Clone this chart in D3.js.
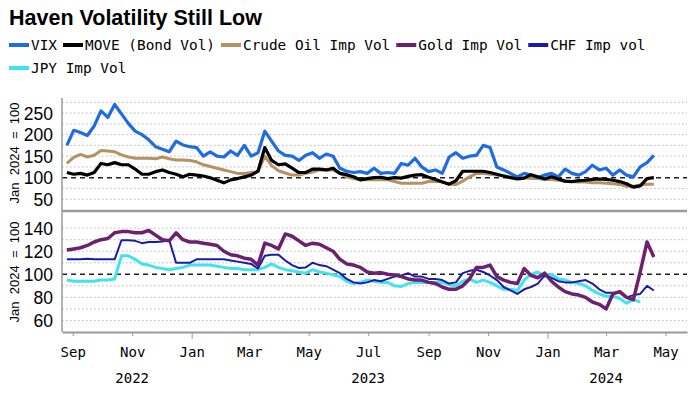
<!DOCTYPE html>
<head>
    <meta charset="utf-8">
    <script src="https://d3js.org/d3.v7.js"></script>
    <style>body { margin: 0; background: #fff; }</style>
</head>
<body>
    <svg id="chart" width="700" height="394"></svg>
    <script>
        // weekly closes (Fridays), Aug 26 2022 .. Apr 19 2024
        const dates = d3.timeDay.range(new Date(2022, 7, 26), new Date(2024, 3, 20), 7);

        // top panel, Jan 2024 = 100
        const vix = [175,210,205,198,220,255,240,270,248,226,208,200,188,172,166,160,185,176,172,170,
                     150,160,150,148,162,152,175,150,158,208,185,162,152,150,140,152,158,145,155,150,
                     122,115,112,114,110,122,110,112,110,133,129,145,125,114,118,110,148,158,145,150,
                     152,175,170,125,118,110,102,110,106,100,106,110,102,120,110,106,114,129,118,122,
                     106,118,106,102,125,135,152];
        const move = [112,108,110,106,112,133,130,135,130,130,120,108,108,114,118,112,108,102,108,106,
                      104,100,94,88,95,98,102,106,115,170,140,130,132,122,112,112,120,120,118,122,
                      110,107,102,95,98,100,101,98,100,99,103,106,107,101,96,90,85,93,115,115,
                      115,115,112,108,104,100,97,99,107,102,97,102,97,92,91,93,94,96,97,96,
                      94,91,86,78,81,98,100];
        const crude = [133,147,154,148,152,163,162,160,153,148,145,145,145,144,148,144,141,141,140,137,
                       130,126,122,118,114,110,110,112,114,150,128,116,111,106,106,110,113,118,118,118,
                       110,102,98,95,95,95,95,95,91,87,87,87,87,91,92,91,85,84,92,102,
                       110,110,108,106,104,102,100,100,98,98,96,96,94,92,91,90,90,88,88,87,
                       86,84,80,80,83,85,85];

        // bottom panel, Jan 2024 = 100
        const gold = [121,122,123,125,128,130,131,136,137,137,136,136,138,134,130,129,136,130,128,128,
                      127,126,125,120,117,116,114,113,108,127,125,122,135,133,129,125,127,126,123,120,
                      113,109,108,106,102,101,101.5,100,99.5,98,96,95,95,93,92,89,87,87,90,96,
                      106,106,108,98,95,93,92,105,99,97,101,94,89,85,83,82,80,76,74,70,
                      83,85,80,78,102,128,115];
        const chf = [113,113,113,113.5,113,113,113,113,129.5,129.5,129,127,128,128,128.5,129.5,110,110,110,113,
                     113,113,113,113,112,111,110,109,105,116,117,117,112,108,105.5,106,110,108,107,104,
                     101,96,93,92,93,95,94,96,98,99,101,98,98,96,96,95,92,93,101,103,
                     104,102,99,95,89,86,83,87,89,92,99,97,94,93,93,94,95,92,87,84,
                     84,84,80,82,83,90,86];
        const jpy = [95,94,94,94,94,95,95,96,116,116,113,109,108,106,105,104,105,106,108,108,
                     108,108,107,106,105,105,104,104,104,106,109,106,104,103,102,101,104,102,101,99.5,
                     98,94,92,93,95,94,93,93,90,89.5,92,93,93,93,93,93,91,90,94,96,
                     93,95,93,90,87,87,86,95,100,102,98,100,96,95,93,92,90,86,83,81,
                     81,79,75,78,76,null,null];

        const topTicks = [50, 100, 150, 200, 250];
        const topGrid = [50, 75, 125, 150, 175, 200, 225, 250, 275];
        const botTicks = [60, 80, 100, 120, 140];
        const botGrid = [60, 70, 80, 90, 110, 120, 130, 140];
        const yearLabels = [["2022", new Date(2022, 10, 1)], ["2023", new Date(2023, 6, 1)], ["2024", new Date(2024, 2, 1)]];

        const series = [
            { name: "VIX", values: vix, color: "#1f6be3", width: 3.2, panel: "top" },
            { name: "MOVE (Bond Vol)", values: move, color: "#000000", width: 3.2, panel: "top" },
            { name: "Crude Oil Imp Vol", values: crude, color: "#b59163", width: 3, panel: "top" },
            { name: "Gold Imp Vol", values: gold, color: "#6c206f", width: 3.5, panel: "bot" },
            { name: "CHF Imp vol", values: chf, color: "#1b1bab", width: 2, panel: "bot" },
            { name: "JPY Imp Vol", values: jpy, color: "#40e4ef", width: 3, panel: "bot" }
        ];

        const svg = d3.select("#chart");
        const left = 62, right = 687;
        const mono = "'DejaVu Sans Mono', monospace";
        const sans = "'Liberation Sans', Arial, sans-serif";

        const x = d3.scaleTime()
            .domain([new Date(2022, 7, 21), new Date(2024, 4, 23)])
            .range([left, right]);
        const yTop = d3.scaleLinear().domain([25, 285]).range([210, 98]);
        const yBot = d3.scaleLinear().domain([50, 154]).range([332, 212]);

        // Title
        svg.append("text")
            .attr("x", 9).attr("y", 25)
            .style("font-family", sans).style("font-weight", "bold").style("font-size", "21.5px")
            .text("Haven Volatility Still Low");

        // Legend
        const rows = [series.slice(0, 5), series.slice(5)];
        rows.forEach((row, r) => {
            let cx = 9;
            const cy = 45 + r * 23;
            row.forEach(s => {
                svg.append("line")
                    .attr("x1", cx).attr("x2", cx + 20).attr("y1", cy).attr("y2", cy)
                    .attr("stroke", s.color).attr("stroke-width", 4);
                const t = svg.append("text")
                    .attr("x", cx + 22).attr("y", cy + 5)
                    .style("font-family", mono).style("font-size", "14.4px")
                    .text(s.name);
                cx += 22 + t.node().getComputedTextLength() + 6;
            });
        });

        // Grid + labels for a panel
        function panel(y, grid, ticks, labelY) {
            const g = svg.append("g");
            g.selectAll(".grid").data(grid).join("line")
                .attr("x1", left).attr("x2", right)
                .attr("y1", d => y(d)).attr("y2", d => y(d))
                .attr("stroke", "#b5b5b5").attr("stroke-width", 1)
                .attr("stroke-dasharray", "1.5,2.5");
            g.append("line")
                .attr("x1", left).attr("x2", right)
                .attr("y1", y(100)).attr("y2", y(100))
                .attr("stroke", "#222").attr("stroke-width", 1.5)
                .attr("stroke-dasharray", "5,4");
            g.selectAll(".tick").data(ticks).join("text")
                .attr("x", 53).attr("y", d => y(d) + 6.5)
                .attr("text-anchor", "end")
                .style("font-family", sans).style("font-size", "17.5px")
                .text(d => d);
            g.append("text")
                .attr("transform", `translate(19,${labelY}) rotate(-90)`)
                .attr("text-anchor", "middle")
                .style("font-family", sans).style("font-size", "13px")
                .style("white-space", "pre")
                .text("Jan  2024  =  100");
        }
        panel(yTop, topGrid, topTicks, 153);
        panel(yBot, botGrid, botTicks, 272);

        // Lines
        const order = ["Crude Oil Imp Vol", "VIX", "MOVE (Bond Vol)", "JPY Imp Vol", "CHF Imp vol", "Gold Imp Vol"];
        order.forEach(name => {
            const s = series.find(d => d.name === name);
            const y = s.panel === "top" ? yTop : yBot;
            const line = d3.line()
                .defined(d => d[1] != null)
                .x(d => x(d[0]))
                .y(d => y(d[1]));
            svg.append("path")
                .datum(dates.map((d, i) => [d, s.values[i]]))
                .attr("fill", "none")
                .attr("stroke", s.color)
                .attr("stroke-width", s.width)
                .attr("stroke-linejoin", "round")
                .attr("d", line);
        });

        // Frame
        svg.append("line")
            .attr("x1", left).attr("x2", right).attr("y1", 211).attr("y2", 211)
            .attr("stroke", "#9a9a9a").attr("stroke-width", 2.5);
        svg.append("line")
            .attr("x1", left).attr("x2", left).attr("y1", 98).attr("y2", 332)
            .attr("stroke", "#9a9a9a").attr("stroke-width", 1.5);

        // X axis
        const xAxis = svg.append("g")
            .attr("transform", "translate(0,332)")
            .call(d3.axisBottom(x)
                .ticks(d3.timeMonth.every(2))
                .tickFormat(d3.timeFormat("%b"))
                .tickSize(4).tickSizeOuter(0).tickPadding(11));
        xAxis.select(".domain").attr("stroke", "#9a9a9a").attr("stroke-width", 2);
        xAxis.selectAll(".tick line").attr("stroke", "#9a9a9a")
            .attr("y2", d => d.getMonth() === 0 ? 7 : 4);
        xAxis.selectAll(".tick text")
            .style("font-family", mono).style("font-size", "14px").attr("fill", "#000");

        svg.selectAll(".year").data(yearLabels).join("text")
            .attr("x", d => x(d[1])).attr("y", 383)
            .attr("text-anchor", "middle")
            .style("font-family", mono).style("font-size", "14px")
            .text(d => d[0]);
    </script>
</body>
